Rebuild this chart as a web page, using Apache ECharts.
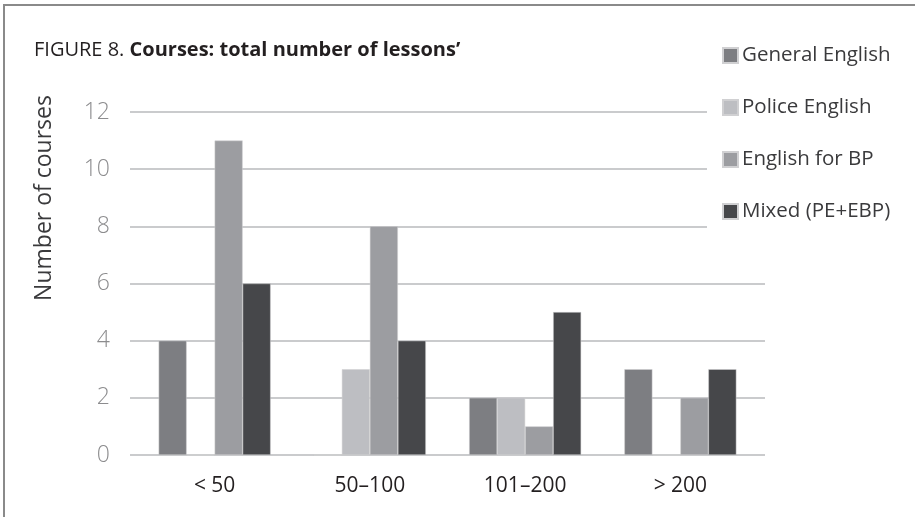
<!DOCTYPE html>
<html>
<head>
<meta charset="utf-8">
<script src="https://cdn.jsdelivr.net/npm/echarts@6/dist/echarts.min.js"></script>
<style>
  html, body { margin: 0; padding: 0; background: #fff; }
  #chart { width: 915px; height: 517px; }
</style>
</head>
<body>
<div id="chart"></div>
<script>
// Lesson-count bands and the number of courses of each type in each band
const categories = ['< 50', '50–100', '101–200', '> 200'];
const seriesNames = ['General English', 'Police English', 'English for BP', 'Mixed (PE+EBP)'];
const generalEnglish = [4, 0, 2, 3];
const policeEnglish = [0, 3, 2, 0];
const englishForBP = [11, 8, 1, 2];
const mixed = [6, 4, 5, 3];
const yTicks = [0, 2, 4, 6, 8, 10, 12];

const seriesValues = [generalEnglish, policeEnglish, englishForBP, mixed];
const colors = ['#7d7e82', '#bdbec2', '#9c9da1', '#46474a'];
const FONT = '"Open Sans", "Noto Sans", sans-serif';

const chart = echarts.init(document.getElementById('chart'), null, { renderer: 'canvas' });

const yMin = yTicks[0];
const yMax = yTicks[yTicks.length - 1];
const yStep = yTicks[1] - yTicks[0];

chart.setOption({
  animation: false,
  backgroundColor: '#ffffff',
  color: colors,
  title: {
    left: 29,
    top: 35,
    text: '{a|FIGURE 8. }{b|Courses: total number of lessons’}',
    textStyle: {
      rich: {
        a: { fontFamily: FONT, fontSize: 20, color: '#231f20', fontWeight: 'normal' },
        b: { fontFamily: FONT, fontSize: 20, color: '#231f20', fontWeight: 'bold' }
      }
    }
  },
  // white legend box hides the upper gridlines where it overlaps them
  legend: {
    orient: 'vertical',
    left: 707,
    top: 40,
    padding: [5, 5, 18, 15],
    backgroundColor: '#ffffff',
    itemWidth: 15,
    itemHeight: 15,
    itemGap: 31,
    icon: 'rect',
    textStyle: { fontFamily: FONT, fontSize: 20.5, color: '#3a3a3c', padding: [0, 0, 0, -1] },
    data: seriesNames
  },
  graphic: [
    {
      type: 'polyline',
      shape: { points: [[4, 520], [4, 5], [920, 5]] },
      style: { stroke: '#8a8a8a', lineWidth: 2, fill: null },
      silent: true
    },
    {
      type: 'text',
      x: 44,
      y: 198,
      rotation: Math.PI / 2,
      style: {
        text: 'Number of courses',
        fontFamily: FONT,
        fontSize: 23,
        fill: '#3a3a3c',
        align: 'center',
        verticalAlign: 'middle'
      },
      silent: true
    }
  ],
  grid: [
    { left: 137, right: 157, top: 112, bottom: 62 },
    { left: 130, right: 150, top: 112, bottom: 62 }
  ],
  xAxis: [
    {
      type: 'category',
      gridIndex: 0,
      data: categories,
      axisLine: { show: false },
      axisTick: { show: false },
      axisLabel: { fontFamily: FONT, fontSize: 21, color: '#231f20', margin: 21 }
    },
    {
      type: 'value',
      gridIndex: 1,
      show: false
    }
  ],
  yAxis: [
    {
      type: 'value',
      gridIndex: 0,
      min: yMin,
      max: yMax,
      interval: yStep,
      axisLine: { show: false },
      axisTick: { show: false },
      splitLine: { show: false },
      axisLabel: { fontFamily: FONT, fontSize: 23, color: '#8c8c8e', margin: 27, fontWeight: 300 }
    },
    {
      type: 'value',
      gridIndex: 1,
      min: yMin,
      max: yMax,
      interval: yStep,
      axisLine: { show: false },
      axisTick: { show: false },
      axisLabel: { show: false },
      splitLine: { show: true, lineStyle: { color: '#b9babd', width: 1.5 } }
    }
  ],
  series: seriesNames.map((name, i) => ({
    name: name,
    type: 'bar',
    xAxisIndex: 0,
    yAxisIndex: 0,
    data: seriesValues[i],
    barWidth: 28,
    barGap: '0%',
    itemStyle: { color: colors[i], borderColor: '#d0d0d2', borderWidth: 0.5 }
  }))
});
</script>
</body>
</html>
